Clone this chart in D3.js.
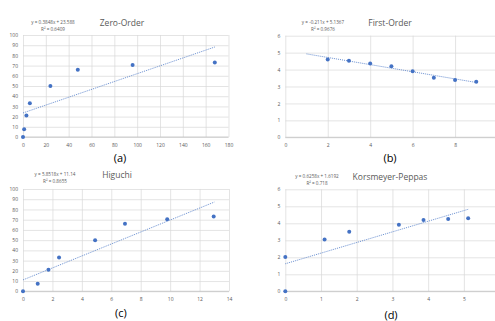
<!DOCTYPE html>
<html>
<head>
<meta charset="utf-8">
<script src="https://cdn.jsdelivr.net/npm/d3@7"></script>
<style>
  body { margin: 0; background: #fff; }
  svg { display: block; }
  .tick text { fill: #595959; font-family: "Open Sans", "Liberation Sans", sans-serif; font-size: 5px; }
</style>
</head>
<body>
<div id="chart"></div>
<script>
"use strict";
let width = 495;
let height = 321;

// (a) Zero-order: time vs % released
let zeroX = [0, 1, 3, 6, 24, 48, 96, 168];
let zeroY = [0, 7.5, 21, 33, 50, 66, 70.5, 73];
// (b) First-order
let firstX = [2, 3, 4, 5, 6, 7, 8, 9];
let firstY = [4.6, 4.52, 4.36, 4.2, 3.9, 3.52, 3.38, 3.28];
// (c) Higuchi: sqrt(t) vs % released
let higX = [0, 1, 1.73, 2.45, 4.9, 6.93, 9.8, 12.96];
let higY = [0, 7.5, 21, 33, 50, 66, 70.5, 73];
// (d) Korsmeyer-Peppas: ln t vs ln %
let kpX = [0, 0, 1.1, 1.79, 3.18, 3.87, 4.56, 5.12];
let kpY = [0, 2.02, 3.05, 3.5, 3.91, 4.2, 4.26, 4.29];

let panels = [
  { title: "Zero-Order", label: "(a)", xs: zeroX, ys: zeroY,
    slope: 0.3848, icpt: 23.588, eq: "y = 0.3848x + 23.588", r2: "R² = 0.6409",
    xDom: [0, 180], xStep: 20, yDom: [0, 100], yStep: 10, fit: [0, 168],
    box: [23, 228.5, 35, 137], titleX: 122, titleY: 26, eqX: 53, eqY: 22, labX: 120, labY: 162 },
  { title: "First-Order", label: "(b)", xs: firstX, ys: firstY,
    slope: -0.211, icpt: 5.1367, eq: "y = -0.211x + 5.1367", r2: "R² = 0.9676",
    xDom: [0, 10], xStep: 2, yDom: [0, 6], yStep: 1, fit: [1, 9],
    box: [285.3, 497.5, 35.7, 137.3], titleX: 390, titleY: 26, eqX: 323, eqY: 22, labX: 390, labY: 162 },
  { title: "Higuchi", label: "(c)", xs: higX, ys: higY,
    slope: 5.8518, icpt: 11.14, eq: "y = 5.8518x + 11.14", r2: "R² = 0.8655",
    xDom: [0, 14], xStep: 2, yDom: [0, 100], yStep: 10, fit: [0, 13],
    box: [23, 229, 189, 291.3], titleX: 117, titleY: 178, eqX: 55, eqY: 174.5, labX: 121, labY: 317 },
  { title: "Korsmeyer-Peppas", label: "(d)", xs: kpX, ys: kpY,
    slope: 0.6258, icpt: 1.6192, eq: "y = 0.6258x + 1.6192", r2: "R² = 0.718",
    xDom: [0, 6], xStep: 1, yDom: [0, 6], yStep: 1, fit: [0, 5.12],
    box: [285.3, 499.6, 189.3, 291.3], titleX: 390, titleY: 180, eqX: 317, eqY: 176.5, labX: 391, labY: 319 }
];

let svg = d3.select("#chart")
            .append("svg")
            .attr("width", width)
            .attr("height", height);

panels.forEach(function(p) {
  let xScale = d3.scaleLinear().domain(p.xDom).range([p.box[0], p.box[1]]);
  let yScale = d3.scaleLinear().domain(p.yDom).range([p.box[3], p.box[2]]);
  let xTicks = d3.range(p.xDom[0], p.xDom[1] + 1e-9, p.xStep);
  let yTicks = d3.range(p.yDom[0], p.yDom[1] + 1e-9, p.yStep);
  let g = svg.append("g");

  // Gridlines + y labels
  let yAxis = d3.axisLeft(yScale).tickValues(yTicks).tickSize(-(p.box[1] - p.box[0])).tickPadding(5).tickFormat(d3.format("d"));
  let gy = g.append("g").attr("transform", "translate(" + p.box[0] + ",0)").call(yAxis);
  gy.select(".domain").remove();
  gy.selectAll("line").attr("stroke", "#d9d9d9").attr("stroke-width", 0.7);

  let xAxis = d3.axisBottom(xScale).tickValues(xTicks).tickSize(-(p.box[3] - p.box[2])).tickPadding(6).tickFormat(d3.format("d"));
  let gx = g.append("g").attr("transform", "translate(0," + p.box[3] + ")").call(xAxis);
  gx.select(".domain").remove();
  gx.selectAll("line").attr("stroke", "#d9d9d9").attr("stroke-width", 0.7);

  // bottom axis line
  g.append("line")
   .attr("x1", p.box[0]).attr("x2", p.box[1])
   .attr("y1", p.box[3]).attr("y2", p.box[3])
   .attr("stroke", "#bfbfbf").attr("stroke-width", 0.8);

  // Trendline
  g.append("line")
   .attr("x1", xScale(p.fit[0])).attr("y1", yScale(p.slope * p.fit[0] + p.icpt))
   .attr("x2", xScale(p.fit[1])).attr("y2", yScale(p.slope * p.fit[1] + p.icpt))
   .attr("stroke", "#4472c4").attr("stroke-width", 0.8)
   .attr("stroke-dasharray", "1,1");

  // Points
  g.selectAll("circle")
   .data(p.xs)
   .enter()
   .append("circle")
   .attr("cx", function(d) { return xScale(d); })
   .attr("cy", function(d, i) { return yScale(p.ys[i]); })
   .attr("r", 2)
   .attr("fill", "#4472c4");

  // Title
  g.append("text")
   .attr("x", p.titleX).attr("y", p.titleY)
   .attr("text-anchor", "middle")
   .style("font-family", "'Open Sans', sans-serif")
   .style("font-size", "8.5px")
   .style("fill", "#595959")
   .text(p.title);

  // Equation
  g.append("text")
   .attr("x", p.eqX).attr("y", p.eqY + 1.5)
   .attr("text-anchor", "middle")
   .style("font-family", "'Open Sans', sans-serif")
   .style("font-size", "4.6px")
   .style("fill", "#595959")
   .text(p.eq);
  g.append("text")
   .attr("x", p.eqX).attr("y", p.eqY + 8.5)
   .attr("text-anchor", "middle")
   .style("font-family", "'Open Sans', sans-serif")
   .style("font-size", "4.6px")
   .style("fill", "#595959")
   .text(p.r2);

  // Panel label
  g.append("text")
   .attr("x", p.labX).attr("y", p.labY)
   .attr("text-anchor", "middle")
   .style("font-family", "'Open Sans', sans-serif")
   .style("font-size", "11px")
   .style("fill", "#000")
   .text(p.label);
});
</script>
</body>
</html>
